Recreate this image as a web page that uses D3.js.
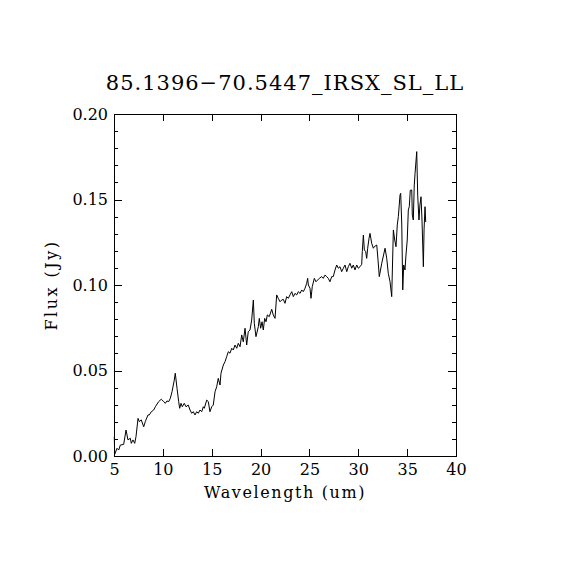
<!DOCTYPE html>
<html>
<head>
<meta charset="utf-8">
<script src="https://cdn.jsdelivr.net/npm/d3@7"></script>
<style>
    body { margin: 0; background: #fff; }
    svg { display: block; }
    .axis path, .axis line { stroke: #000; stroke-width: 1; shape-rendering: crispEdges; }
    .axis text { font-family: "DejaVu Serif", serif; font-size: 16px; fill: #000; }
    .label { font-family: "DejaVu Serif", serif; font-size: 16px; fill: #000; }
    .title { font-family: "DejaVu Serif", serif; font-size: 21px; letter-spacing: 1px; fill: #000; }
</style>
</head>
<body>
<div id="chart"></div>
<script>
"use strict";

var title = "85.1396\u221270.5447_IRSX_SL_LL";
var xTicks = [5, 10, 15, 20, 25, 30, 35, 40];
var yTicks = [0.00, 0.05, 0.10, 0.15, 0.20];
var yMinorTicks = d3.range(0, 0.2001, 0.01);

// spectrum (um, Jy)
var wavelength = [
    5.03, 5.07, 5.31, 5.48, 5.65, 5.99, 6.23, 6.43, 6.67, 6.77, 6.94, 7.12, 7.25, 7.46, 7.59,
    7.79, 8.04, 8.20, 8.48, 8.61, 8.82, 9.06, 9.23, 9.57, 9.84, 10.09, 10.25, 10.42, 10.60, 10.76,
    10.94, 11.17, 11.27, 11.45, 11.62, 11.72, 11.86, 11.99, 12.19, 12.37, 12.60, 12.78, 12.95, 13.12, 13.29,
    13.46, 13.63, 13.80, 13.98, 14.14, 14.24, 14.49, 14.65, 14.82, 15.00, 15.16, 15.34, 15.51, 15.67, 15.85,
    15.95, 16.19, 16.36, 16.53, 16.70, 16.87, 17.05, 17.21, 17.38, 17.56, 17.72, 17.90, 18.07, 18.23, 18.41,
    18.58, 18.74, 18.92, 19.09, 19.26, 19.36, 19.53, 19.77, 19.87, 20.01, 20.15, 20.28, 20.42, 20.56, 20.69,
    20.89, 21.14, 21.30, 21.48, 21.65, 21.81, 21.99, 22.16, 22.33, 22.50, 22.67, 22.84, 23.01, 23.19, 23.35,
    23.52, 23.70, 23.86, 24.04, 24.21, 24.37, 24.55, 24.72, 24.82, 24.89, 25.06, 25.16, 25.29, 25.50, 25.67,
    25.84, 26.01, 26.26, 26.42, 26.59, 26.77, 26.93, 27.10, 27.28, 27.44, 27.62, 27.79, 27.96, 28.13, 28.30,
    28.47, 28.64, 28.82, 28.98, 29.15, 29.33, 29.49, 29.66, 29.84, 30.00, 30.18, 30.35, 30.41, 30.52, 30.62,
    30.76, 30.86, 30.96, 31.10, 31.20, 31.37, 31.54, 31.64, 31.89, 32.02, 32.15, 32.40, 32.74, 32.91, 33.07,
    33.25, 33.42, 33.59, 33.73, 33.86, 33.99, 34.10, 34.27, 34.34, 34.45, 34.55, 34.65, 34.78, 34.88, 35.01,
    35.12, 35.22, 35.32, 35.47, 35.53, 35.63, 35.73, 35.81, 35.98, 36.08, 36.21, 36.31, 36.42, 36.52, 36.66,
    36.73, 36.83, 36.90
];
var flux = [
    0.0113, 0.0010, 0.0045, 0.0035, 0.0064, 0.0068, 0.0152, 0.0094, 0.0104, 0.0074, 0.0094, 0.0074, 0.0113, 0.0220, 0.0201,
    0.0211, 0.0171, 0.0201, 0.0240, 0.0240, 0.0259, 0.0269, 0.0288, 0.0318, 0.0332, 0.0318, 0.0308, 0.0322, 0.0318, 0.0337,
    0.0376, 0.0444, 0.0484, 0.0396, 0.0318, 0.0279, 0.0308, 0.0288, 0.0308, 0.0288, 0.0298, 0.0269, 0.0250, 0.0259, 0.0240,
    0.0259, 0.0250, 0.0269, 0.0259, 0.0288, 0.0279, 0.0327, 0.0318, 0.0259, 0.0288, 0.0298, 0.0376, 0.0405, 0.0454, 0.0415,
    0.0484, 0.0532, 0.0551, 0.0581, 0.0610, 0.0601, 0.0630, 0.0620, 0.0649, 0.0630, 0.0659, 0.0639, 0.0708, 0.0668, 0.0747,
    0.0649, 0.0727, 0.0737, 0.0795, 0.0912, 0.0776, 0.0698, 0.0756, 0.0805, 0.0747, 0.0785, 0.0737, 0.0805, 0.0785, 0.0825,
    0.0815, 0.0858, 0.0825, 0.0805, 0.0942, 0.0922, 0.0902, 0.0912, 0.0916, 0.0893, 0.0932, 0.0922, 0.0942, 0.0961, 0.0932,
    0.0951, 0.0942, 0.0961, 0.0951, 0.0971, 0.0961, 0.0981, 0.1010, 0.1039, 0.1000, 0.0981, 0.0922, 0.0990, 0.1039, 0.1019,
    0.1029, 0.1039, 0.1049, 0.1039, 0.1058, 0.1049, 0.1039, 0.1019, 0.1049, 0.1049, 0.1088, 0.1117, 0.1098, 0.1107, 0.1078,
    0.1098, 0.1117, 0.1078, 0.1107, 0.1127, 0.1098, 0.1117, 0.1088, 0.1117, 0.1098, 0.1107, 0.1121, 0.1195, 0.1292, 0.1205,
    0.1195, 0.1156, 0.1215, 0.1273, 0.1302, 0.1244, 0.1215, 0.1224, 0.1234, 0.1146, 0.1049, 0.1127, 0.1215, 0.1156, 0.1068,
    0.1019, 0.0932, 0.1322, 0.1263, 0.1224, 0.1351, 0.1400, 0.1526, 0.1536, 0.1351, 0.0971, 0.1117, 0.1088, 0.1175, 0.1263,
    0.1439, 0.1458, 0.1554, 0.1556, 0.1409, 0.1380, 0.1585, 0.1653, 0.1780, 0.1526, 0.1380, 0.1468, 0.1516, 0.1380, 0.1107,
    0.1322, 0.1458, 0.1368
];

var width = 570, height = 570;
var margin = {top: 114, right: 114, bottom: 114, left: 114};
var plotW = width - margin.left - margin.right;
var plotH = height - margin.top - margin.bottom;

var svg = d3.select('#chart')
            .append('svg')
                .attr('width', width)
                .attr('height', height);

var x = d3.scaleLinear().domain([5, 40]).range([0, plotW]);
var y = d3.scaleLinear().domain([0, 0.2]).range([plotH, 0]);

var plot = svg.append('g')
                  .attr('transform', 'translate(' + margin.left + ',' + margin.top + ')');

// minor y ticks, both sides
plot.append('g')
        .attr('class', 'axis')
        .call(d3.axisLeft(y).tickValues(yMinorTicks).tickSize(-4).tickFormat(''))
        .call(function(g) { g.select('.domain').remove(); });
plot.append('g')
        .attr('class', 'axis')
        .attr('transform', 'translate(' + plotW + ',0)')
        .call(d3.axisRight(y).tickValues(yMinorTicks).tickSize(-4).tickFormat(''))
        .call(function(g) { g.select('.domain').remove(); });

// major ticks
plot.append('g')
        .attr('class', 'axis')
        .attr('transform', 'translate(0,' + plotH + ')')
        .call(d3.axisBottom(x).tickValues(xTicks).tickSizeInner(-7).tickSizeOuter(0).tickPadding(8).tickFormat(d3.format('d')));
plot.append('g')
        .attr('class', 'axis')
        .call(d3.axisTop(x).tickValues(xTicks).tickSizeInner(-7).tickSizeOuter(0).tickFormat(''));
plot.append('g')
        .attr('class', 'axis')
        .call(d3.axisLeft(y).tickValues(yTicks).tickSizeInner(-8).tickSizeOuter(0).tickPadding(6).tickFormat(d3.format('.2f')));
plot.append('g')
        .attr('class', 'axis')
        .attr('transform', 'translate(' + plotW + ',0)')
        .call(d3.axisRight(y).tickValues(yTicks).tickSizeInner(-8).tickSizeOuter(0).tickFormat(''));

var line = d3.line()
             .x(function(d) { return x(d[0]); })
             .y(function(d) { return y(d[1]); });

plot.append('path')
        .datum(d3.zip(wavelength, flux))
        .attr('fill', 'none')
        .attr('stroke', '#000')
        .attr('stroke-width', 1)
        .attr('d', line);

svg.append('text')
       .attr('class', 'title')
       .attr('x', margin.left + plotW / 2)
       .attr('y', 90)
       .attr('text-anchor', 'middle')
       .text(title);

svg.append('text')
       .attr('class', 'label')
       .attr('x', margin.left + plotW / 2)
       .attr('y', 498)
       .attr('text-anchor', 'middle')
       .style('letter-spacing', '1.6px')
       .text('Wavelength (um)');

svg.append('text')
       .attr('class', 'label')
       .attr('transform', 'translate(57,' + (margin.top + plotH / 2) + ') rotate(-90)')
       .attr('text-anchor', 'middle')
       .style('letter-spacing', '2.5px')
       .text('Flux (Jy)');
</script>
</body>
</html>
